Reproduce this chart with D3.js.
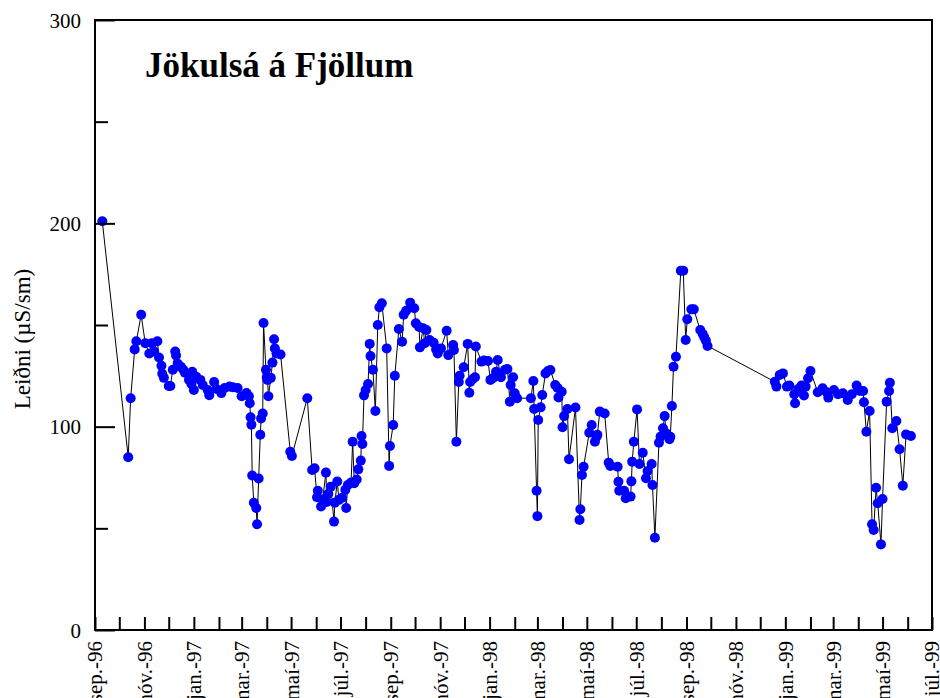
<!DOCTYPE html>
<html><head><meta charset="utf-8">
<script src="https://cdnjs.cloudflare.com/ajax/libs/d3/7.8.5/d3.min.js"></script>
<style>body{margin:0;background:#fff;} svg{display:block;} text{font-family:"Liberation Serif","Times New Roman","DejaVu Serif",serif;}</style>
</head><body><svg id="chart" width="940" height="698"></svg>
<script>
// ---- data ----
const dates = [
"1996-09-10","1996-10-12","1996-10-15","1996-10-20","1996-10-22","1996-10-28",
"1996-11-02","1996-11-07","1996-11-10","1996-11-13","1996-11-17","1996-11-19","1996-11-22","1996-11-23","1996-11-25",
"1996-12-01","1996-12-03","1996-12-06","1996-12-09","1996-12-10","1996-12-12","1996-12-16","1996-12-19","1996-12-21","1996-12-26","1996-12-29","1996-12-30",
"1997-01-01","1997-01-04","1997-01-09","1997-01-12","1997-01-18","1997-01-20","1997-01-26","1997-01-29",
"1997-02-04","1997-02-08","1997-02-14","1997-02-18","1997-02-24",
"1997-03-01","1997-03-07","1997-03-10","1997-03-11","1997-03-12","1997-03-13","1997-03-14","1997-03-16","1997-03-19","1997-03-20","1997-03-22","1997-03-24","1997-03-25","1997-03-27","1997-03-28",
"1997-03-31","1997-04-01","1997-04-02","1997-04-03","1997-04-06","1997-04-08","1997-04-10","1997-04-11","1997-04-13","1997-04-18",
"1997-04-30","1997-05-02","1997-05-21","1997-05-27","1997-05-30",
"1997-06-02","1997-06-03","1997-06-07","1997-06-09","1997-06-13","1997-06-14","1997-06-16","1997-06-19","1997-06-23","1997-06-24","1997-06-27","1997-06-29",
"1997-07-03","1997-07-07","1997-07-08","1997-07-10","1997-07-14","1997-07-16","1997-07-18","1997-07-21","1997-07-23","1997-07-26","1997-07-27","1997-07-28","1997-07-30",
"1997-08-01","1997-08-04","1997-08-06","1997-08-07","1997-08-10","1997-08-13","1997-08-16","1997-08-18","1997-08-21","1997-08-27","1997-08-30","1997-08-31",
"1997-09-04","1997-09-06","1997-09-11","1997-09-15","1997-09-17","1997-09-20","1997-09-25","1997-09-30",
"1997-10-02","1997-10-06","1997-10-07","1997-10-11","1997-10-13","1997-10-15","1997-10-19","1997-10-24","1997-10-27","1997-10-29",
"1997-11-02","1997-11-09","1997-11-11","1997-11-17","1997-11-18","1997-11-21","1997-11-24","1997-11-25","1997-11-30",
"1997-12-05","1997-12-07","1997-12-08","1997-12-11","1997-12-14","1997-12-15","1997-12-22","1997-12-25","1997-12-30",
"1998-01-02","1998-01-05","1998-01-09","1998-01-11","1998-01-15","1998-01-20","1998-01-23","1998-01-26","1998-01-27","1998-01-30",
"1998-02-01","1998-02-04","1998-02-21","1998-02-24","1998-02-25","1998-02-28",
"1998-03-01","1998-03-02","1998-03-05","1998-03-07","1998-03-11","1998-03-14","1998-03-17","1998-03-23","1998-03-26","1998-03-27","1998-03-31",
"1998-04-01","1998-04-03","1998-04-07","1998-04-09","1998-04-17","1998-04-22","1998-04-23","1998-04-25","1998-04-27",
"1998-05-04","1998-05-07","1998-05-11","1998-05-13","1998-05-14","1998-05-17","1998-05-23","1998-05-28","1998-05-30",
"1998-06-08","1998-06-09","1998-06-10","1998-06-16","1998-06-18","1998-06-24","1998-06-25","1998-06-26","1998-06-28",
"1998-07-02","1998-07-05","1998-07-09","1998-07-13","1998-07-15","1998-07-20","1998-07-21","1998-07-24","1998-07-29","1998-07-31",
"1998-08-03","1998-08-05","1998-08-07","1998-08-11","1998-08-12","1998-08-14","1998-08-16","1998-08-19","1998-08-25","1998-08-28","1998-08-31",
"1998-09-02","1998-09-07","1998-09-10","1998-09-18","1998-09-21","1998-09-23","1998-09-25","1998-09-27",
"1998-12-19","1998-12-21","1998-12-25","1998-12-29",
"1999-01-03","1999-01-06","1999-01-12","1999-01-13","1999-01-17","1999-01-21","1999-01-24","1999-01-26","1999-01-29",
"1999-02-01","1999-02-10","1999-02-16","1999-02-21","1999-02-23",
"1999-03-02","1999-03-07","1999-03-13","1999-03-19","1999-03-24","1999-03-30",
"1999-04-03","1999-04-07","1999-04-08","1999-04-11","1999-04-15","1999-04-18","1999-04-20","1999-04-23","1999-04-25","1999-04-29",
"1999-05-01","1999-05-06","1999-05-09","1999-05-10","1999-05-13","1999-05-18","1999-05-22","1999-05-26","1999-05-30",
"1999-06-05"
];
const values = [
201, 85, 114, 138, 142, 155,
141, 136, 141, 137, 142, 134, 130, 126, 124,
120, 120, 128, 137, 135, 131, 129.5, 128, 126.5, 123, 121, 127,
118, 124.5, 123, 120.5, 118, 115.5, 122, 118.5,
116.5, 119, 119.7, 119.4, 119,
115, 116.5, 115, 111.5, 104.6, 101, 76, 62.6, 60, 52, 74.5, 96, 104, 106.5, 151,
128, 124, 123, 115, 124, 131.5, 143, 138.5, 136, 135.5,
87.7, 85.6, 114, 78.7, 79.5,
65.3, 68.5, 60.7, 64.3, 77.4, 63, 67, 70.5, 53.3, 62.6, 73, 64,
65, 69, 60, 71.3, 72.5, 92.6, 72.2, 74, 79, 83.3, 95.4, 91.5, 115.4,
118, 121, 140.7, 134.7, 128, 107.7, 150, 158.7, 160.7, 138.5, 80.7, 90.5,
100.8, 125, 148, 141.8, 155, 157, 161, 158.2,
150.8, 149, 139, 148.4, 141, 147.5, 142.6, 141.3, 138, 136,
138.5, 147.2, 135.2, 140.2, 137.7, 92.6, 122, 125, 129.2,
140.7, 116.7, 122, 123.3, 124.3, 139.4, 132, 132.5, 132.3,
123, 123.8, 127, 132.8, 124.3, 128, 128.4, 112.3, 120.5, 124.3,
116.4, 114, 114, 122.5, 108.7, 68.5,
56, 103.3, 109.5, 115.6, 126.2, 127.4, 127.9, 120.5, 119, 114.4, 117.2,
99.7, 105.2, 108.7, 84, 109.4, 54.1, 59.4, 76.2, 80.3,
97, 100.8, 92.6, 95.1, 96, 107.4, 106.5, 82.3, 80.7,
80.3, 72.9, 68.5, 68.5, 64.8, 65.6, 73.1, 82.8, 92.6,
108.5, 81.6, 87.2, 74.6, 78.2, 81.6, 71.3, 45.4, 92.1, 95.1,
99.2, 105.2, 96.7, 93.8, 95, 110.2, 129.5, 134.4, 176.7, 176.7, 142.6,
152.8, 157.7, 157.7, 147.5, 145.6, 143.9, 142.3, 139.7,
122.1, 119.7, 125.4, 126.2,
119.7, 120.2, 115.9, 111.5, 118.5, 120.2, 115.3, 119.7, 123.8,
127.4, 116.9, 118.9, 116.9, 114.3,
118, 115.9, 116.4, 113.1, 115.9, 120.2,
117.5, 117.5, 112, 97.5, 107.7, 52, 49.2, 70, 62.3, 42.1,
64.4, 112.3, 117.5, 121.6, 99.2, 102.8, 88.9, 71, 96.2,
95.4
];
const monthNames = ["jan.","feb.","mar.","apr.","maí","jún.","júl.","ágú.","sep.","okt.","nóv.","des."];
const xDomain = ["1996-09-01","1999-07-01"];
const yTicks = [0,50,100,150,200,250,300];
const yLabelTicks = [0,100,200,300];
const chartTitle = "Jökulsá á Fjöllum";
const yTitle = "Leiðni (µS/sm)";

// ---- drawing ----
const FONT = '"Liberation Serif","Times New Roman","DejaVu Serif",serif';
const parse = d3.utcParse("%Y-%m-%d");
const data = dates.map((d,i)=>({date:parse(d), value:values[i]}));
const svg = d3.select("#chart");
const L=95, R=932, T=20, B=630;
const x = d3.scaleUtc().domain(xDomain.map(parse)).range([L,R]);
const y = d3.scaleLinear().domain([0,300]).range([B,T]);

// line
svg.append("path").datum(data)
  .attr("fill","none").attr("stroke","#000").attr("stroke-width",1)
  .attr("d", d3.line().x(d=>x(d.date)).y(d=>y(d.value)));
// points
svg.append("g").selectAll("circle").data(data).join("circle")
  .attr("cx",d=>x(d.date)).attr("cy",d=>y(d.value)).attr("r",5)
  .attr("fill","#0000ff");

// frame
svg.append("rect").attr("x",L).attr("y",T).attr("width",R-L).attr("height",B-T)
  .attr("fill","none").attr("stroke","#000").attr("stroke-width",2);

// x axis
const months = d3.utcMonth.range(parse(xDomain[0]), d3.utcDay.offset(parse(xDomain[1]),1));
const fmt = d => { const m=d.getUTCMonth(); const yy=String(d.getUTCFullYear()).slice(2); return monthNames[m]+"-"+yy; };
const xAxis = svg.append("g").attr("transform",`translate(0,${B})`)
  .call(d3.axisBottom(x).tickValues(months).tickSize(-13)
        .tickFormat((d,i)=> i%2===0 ? fmt(d) : ""));
xAxis.attr("font-family",null).attr("font-size",null);
xAxis.select(".domain").remove();
xAxis.selectAll(".tick line").attr("stroke","#000").attr("stroke-width",2);
xAxis.selectAll(".tick text")
  .attr("transform","rotate(-90)").attr("text-anchor","end")
  .attr("x",-11).attr("y",0).attr("dy","0.33em")
  .attr("font-family",FONT).style("font-family",FONT).style("font-size","21px").attr("fill","#000");

// y axis
const yAxis = svg.append("g").attr("transform",`translate(${L},0)`)
  .call(d3.axisLeft(y).tickValues(yTicks)
        .tickFormat(d=> yLabelTicks.includes(d) ? d : ""));
yAxis.attr("font-family",null).attr("font-size",null);
yAxis.select(".domain").remove();
yAxis.selectAll(".tick line").attr("x1",0)
  .attr("x2",d=> yLabelTicks.includes(d) ? 20 : 13)
  .attr("stroke","#000").attr("stroke-width",2);
yAxis.selectAll(".tick text").attr("x",-14).attr("dy","0.34em")
  .attr("font-family",FONT).style("font-family",FONT).style("font-size","21px").attr("fill","#000");

// y title
svg.append("text").attr("transform","translate(30,339) rotate(-90)")
  .attr("text-anchor","middle").attr("font-family",FONT).style("font-family",FONT).style("font-size","23px")
  .text(yTitle);
// chart title
svg.append("text").attr("x",145).attr("y",77)
  .attr("font-family",FONT).style("font-family",FONT).style("font-size","35px").style("font-weight","bold")
  .text(chartTitle);
</script></body></html>
